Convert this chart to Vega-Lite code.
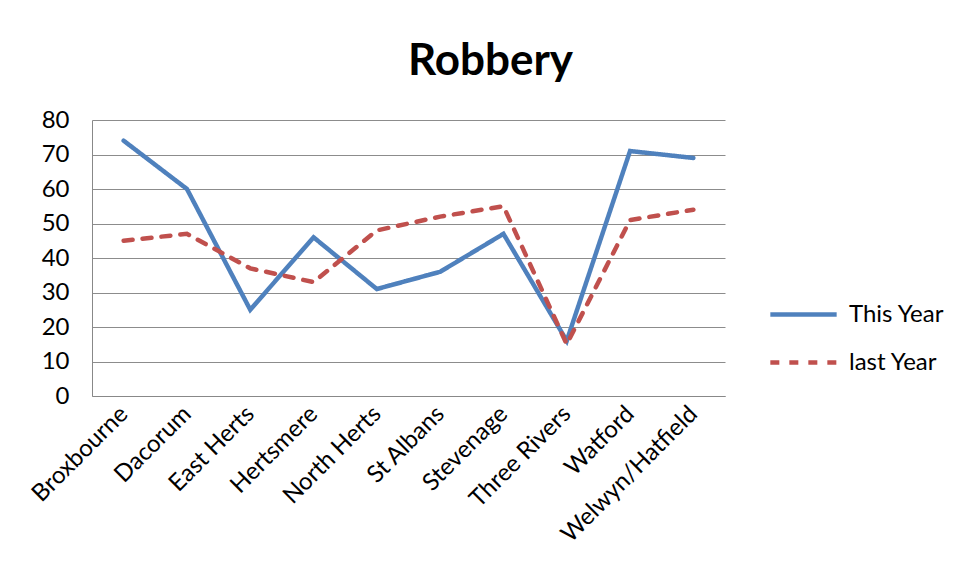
{
  "$schema": "https://vega.github.io/schema/vega-lite/v6.json",
  "width": 633,
  "height": 276,
  "autosize": {"type": "none"},
  "padding": {"left": 92, "top": 120, "right": 235, "bottom": 182},
  "background": "white",
  "config": {
    "font": "Lato",
    "view": {"stroke": null}
  },
  "title": {
    "text": "Robbery",
    "font": "Lato",
    "fontSize": 44,
    "fontWeight": "bold",
    "color": "#000000",
    "anchor": "middle",
    "dx": 82,
    "offset": 24
  },
  "data": {
    "values": [
      {"area": "Broxbourne", "series": "This Year", "value": 74},
      {"area": "Dacorum", "series": "This Year", "value": 60},
      {"area": "East Herts", "series": "This Year", "value": 25},
      {"area": "Hertsmere", "series": "This Year", "value": 46},
      {"area": "North Herts", "series": "This Year", "value": 31},
      {"area": "St Albans", "series": "This Year", "value": 36},
      {"area": "Stevenage", "series": "This Year", "value": 47},
      {"area": "Three Rivers", "series": "This Year", "value": 16},
      {"area": "Watford", "series": "This Year", "value": 71},
      {"area": "Welwyn/Hatfield", "series": "This Year", "value": 69},
      {"area": "Broxbourne", "series": "last Year", "value": 45},
      {"area": "Dacorum", "series": "last Year", "value": 47},
      {"area": "East Herts", "series": "last Year", "value": 37},
      {"area": "Hertsmere", "series": "last Year", "value": 33},
      {"area": "North Herts", "series": "last Year", "value": 48},
      {"area": "St Albans", "series": "last Year", "value": 52},
      {"area": "Stevenage", "series": "last Year", "value": 55},
      {"area": "Three Rivers", "series": "last Year", "value": 15},
      {"area": "Watford", "series": "last Year", "value": 51},
      {"area": "Welwyn/Hatfield", "series": "last Year", "value": 54}
    ]
  },
  "mark": {"type": "line", "strokeWidth": 4.5, "strokeCap": "round", "strokeJoin": "miter"},
  "encoding": {
    "x": {
      "field": "area",
      "type": "nominal",
      "sort": null,
      "scale": {"type": "point", "padding": 0.5},
      "axis": {
        "title": null,
        "labelAngle": -45,
        "labelAlign": "right",
        "labelBaseline": "middle",
        "labelFontSize": 24,
        "labelColor": "#000000",
        "labelPadding": 14,
        "labelLimit": 400,
        "ticks": false,
        "domain": true,
        "domainColor": "#888888",
        "grid": false
      }
    },
    "y": {
      "field": "value",
      "type": "quantitative",
      "scale": {"domain": [0, 80], "nice": false},
      "axis": {
        "title": null,
        "values": [0, 10, 20, 30, 40, 50, 60, 70, 80],
        "labelFontSize": 24,
        "labelColor": "#000000",
        "labelPadding": 23,
        "ticks": false,
        "domainColor": "#888888",
        "gridColor": "#8c8c8c",
        "gridWidth": 1
      }
    },
    "color": {
      "field": "series",
      "type": "nominal",
      "scale": {"domain": ["This Year", "last Year"], "range": ["#4f81bd", "#c0504d"]},
      "legend": {
        "title": null,
        "orient": "none",
        "legendX": 676,
        "legendY": 159,
        "symbolType": "stroke",
        "symbolSize": 4400,
        "symbolStrokeWidth": 4.5,
        "labelFontSize": 24,
        "labelColor": "#000000",
        "rowPadding": -18,
        "labelOffset": 10
      }
    },
    "strokeDash": {
      "field": "series",
      "type": "nominal",
      "scale": {"domain": ["This Year", "last Year"], "range": [[1, 0], [9, 10]]},
      "legend": null
    }
  }
}
